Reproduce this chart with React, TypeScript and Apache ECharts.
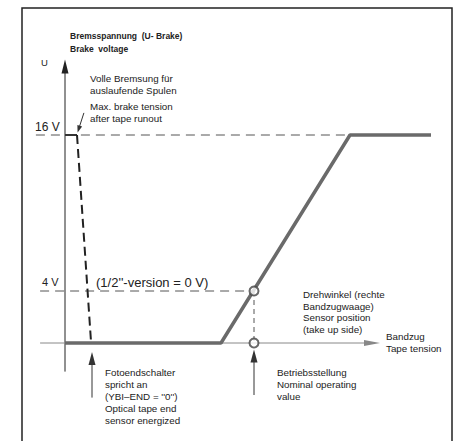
import React, { useEffect, useRef } from "react";
import * as echarts from "echarts";

// Characteristic curve (tension units vs. brake voltage U)
const curveX = [0, 52, 95, 122];
const curveU = [0, 0, 16, 16];

// Brake on tape end: full voltage, then dashed drop
const brakeSolidX = [0, 4];
const brakeSolidU = [16, 16];
const brakeDashX = [4, 8.7];
const brakeDashU = [16, 0];

// Reference levels
const ref16X = [-9.7, 95];
const ref16U = [16, 16];
const ref4X = [-8.3, 63];
const ref4U = [4, 4];
const nominalX = [63, 63];
const nominalU = [4, 0];
const markerX = [63, 63];
const markerU = [4, 0];

// Axes [x1, y1, x2, y2]
const yAxisArrow = [[0, -2.2, 0, 21.8]];
const xAxisArrow = [[-8.3, 0, 105, 0]];
const pointerArrows = [
  [9, -4.2, 9, -0.7],
  [63, -4, 63, -0.5],
];
const smallArrow = [[6.3, 17.7, 4.2, 16.2]];

const pairs = (xs: number[], ys: number[]) => xs.map((x, i) => [x, ys[i]]);

const FONT = '"Liberation Sans", Arial, sans-serif';

function arrowSeries(data: number[][], color: string, lw: number, headL: number, headW: number, z: number) {
  return {
    type: "custom",
    z,
    silent: true,
    clip: false,
    data,
    renderItem: (_p: any, api: any) => {
      const a = api.coord([api.value(0), api.value(1)]);
      const b = api.coord([api.value(2), api.value(3)]);
      const dx = b[0] - a[0];
      const dy = b[1] - a[1];
      const len = Math.sqrt(dx * dx + dy * dy) || 1;
      const ux = dx / len;
      const uy = dy / len;
      const bx = b[0] - ux * headL;
      const by = b[1] - uy * headL;
      const nx = -uy * (headW / 2);
      const ny = ux * (headW / 2);
      return {
        type: "group",
        children: [
          {
            type: "line",
            shape: { x1: a[0], y1: a[1], x2: bx + ux * 2, y2: by + uy * 2 },
            style: { stroke: color, lineWidth: lw },
          },
          {
            type: "polygon",
            shape: { points: [b, [bx + nx, by + ny], [bx - nx, by - ny]] },
            style: { fill: color },
          },
        ],
      };
    },
  };
}

function txt(text: string, x: number, y: number, size: number, weight = "normal") {
  return {
    type: "text",
    x,
    y,
    silent: true,
    style: {
      text,
      fill: "#222",
      font: `${weight} ${size}px ${FONT}`,
      textAlign: "left",
      textVerticalAlign: "middle",
      align: "left",
      verticalAlign: "middle",
    },
  };
}

export default function App() {
  const ref = useRef<HTMLDivElement>(null);
  useEffect(() => {
    if (!ref.current) return;
    const chart = echarts.init(ref.current, null, { renderer: "svg" });
    const dashed = (xs: number[], ys: number[], color: string, dash: number[], w = 1) => ({
      type: "line",
      data: pairs(xs, ys),
      symbol: "none",
      silent: true,
      clip: false,
      z: 2,
      lineStyle: { color, width: w, type: dash },
    });
    chart.setOption({
      animation: false,
      backgroundColor: "#fff",
      grid: { left: 35, right: 26, top: 57, bottom: 33 },
      xAxis: { type: "value", min: -10, max: 122, show: false },
      yAxis: { type: "value", min: -5, max: 22, show: false },
      graphic: [
        {
          type: "rect",
          shape: { x: 22, y: 8, width: 430, height: 460 },
          style: { fill: "none", stroke: "#222", lineWidth: 1.5 },
          silent: true,
        },
        txt("Bremsspannung  (U- Brake)", 70, 36, 8.5, "bold"),
        txt("Brake  voltage", 70, 49, 8.5, "bold"),
        txt("U", 41, 62, 9.5),
        txt("Volle Bremsung für", 90, 78, 9.8),
        txt("auslaufende Spulen", 90, 90, 9.8),
        txt("Max. brake tension", 90, 106, 9.8),
        txt("after tape runout", 90, 118, 9.8),
        txt("16 V", 35, 127, 12),
        txt("4 V", 42, 282, 11),
        txt("(1/2''-version = 0 V)", 96, 282, 13),
        txt("Drehwinkel (rechte", 303, 294, 9.8),
        txt("Bandzugwaage)", 303, 306, 9.8),
        txt("Sensor position", 303, 317, 9.8),
        txt("(take up side)", 303, 329, 9.8),
        txt("Bandzug", 386, 336, 9.8),
        txt("Tape tension", 386, 348, 9.8),
        txt("Fotoendschalter", 105, 372, 9.8),
        txt("spricht an", 105, 384, 9.8),
        txt("(YBI–END = ''0'')", 105, 396, 9.8),
        txt("Optical tape end", 105, 408, 9.8),
        txt("sensor energized", 105, 420, 9.8),
        txt("Betriebsstellung", 277, 372, 9.8),
        txt("Nominal operating", 277, 384, 9.8),
        txt("value", 277, 396, 9.8),
      ],
      series: [
        dashed(ref16X, ref16U, "#555", [9, 6]),
        dashed(ref4X, ref4U, "#555", [9, 6]),
        dashed(nominalX, nominalU, "#555", [5, 4]),
        arrowSeries(yAxisArrow, "#222", 1, 14, 7, 1),
        arrowSeries(xAxisArrow, "#888", 1, 16, 6, 1),
        arrowSeries(pointerArrows, "#333", 1, 13, 7, 3),
        arrowSeries(smallArrow, "#333", 1, 7, 5, 3),
        {
          type: "line",
          data: pairs(brakeSolidX, brakeSolidU),
          symbol: "none",
          silent: true,
          clip: false,
          z: 4,
          lineStyle: { color: "#333", width: 2 },
        },
        {
          type: "line",
          data: pairs(brakeDashX, brakeDashU),
          symbol: "none",
          silent: true,
          clip: false,
          z: 4,
          lineStyle: { color: "#222", width: 2, type: [9, 5] },
        },
        {
          type: "line",
          data: pairs(curveX, curveU),
          symbol: "none",
          silent: true,
          clip: false,
          z: 5,
          lineStyle: { color: "#6a6a6a", width: 3.5 },
        },
        {
          type: "scatter",
          data: pairs(markerX, markerU),
          symbol: "emptyCircle",
          symbolSize: 9,
          silent: true,
          z: 6,
          itemStyle: { color: "#444", borderColor: "#444", borderWidth: 1 },
        },
      ],
    });
    return () => chart.dispose();
  }, []);
  return (
    <div
      ref={ref}
      style={{ position: "absolute", left: 0, top: 0, width: 457, height: 441, background: "#fff" }}
    />
  );
}
